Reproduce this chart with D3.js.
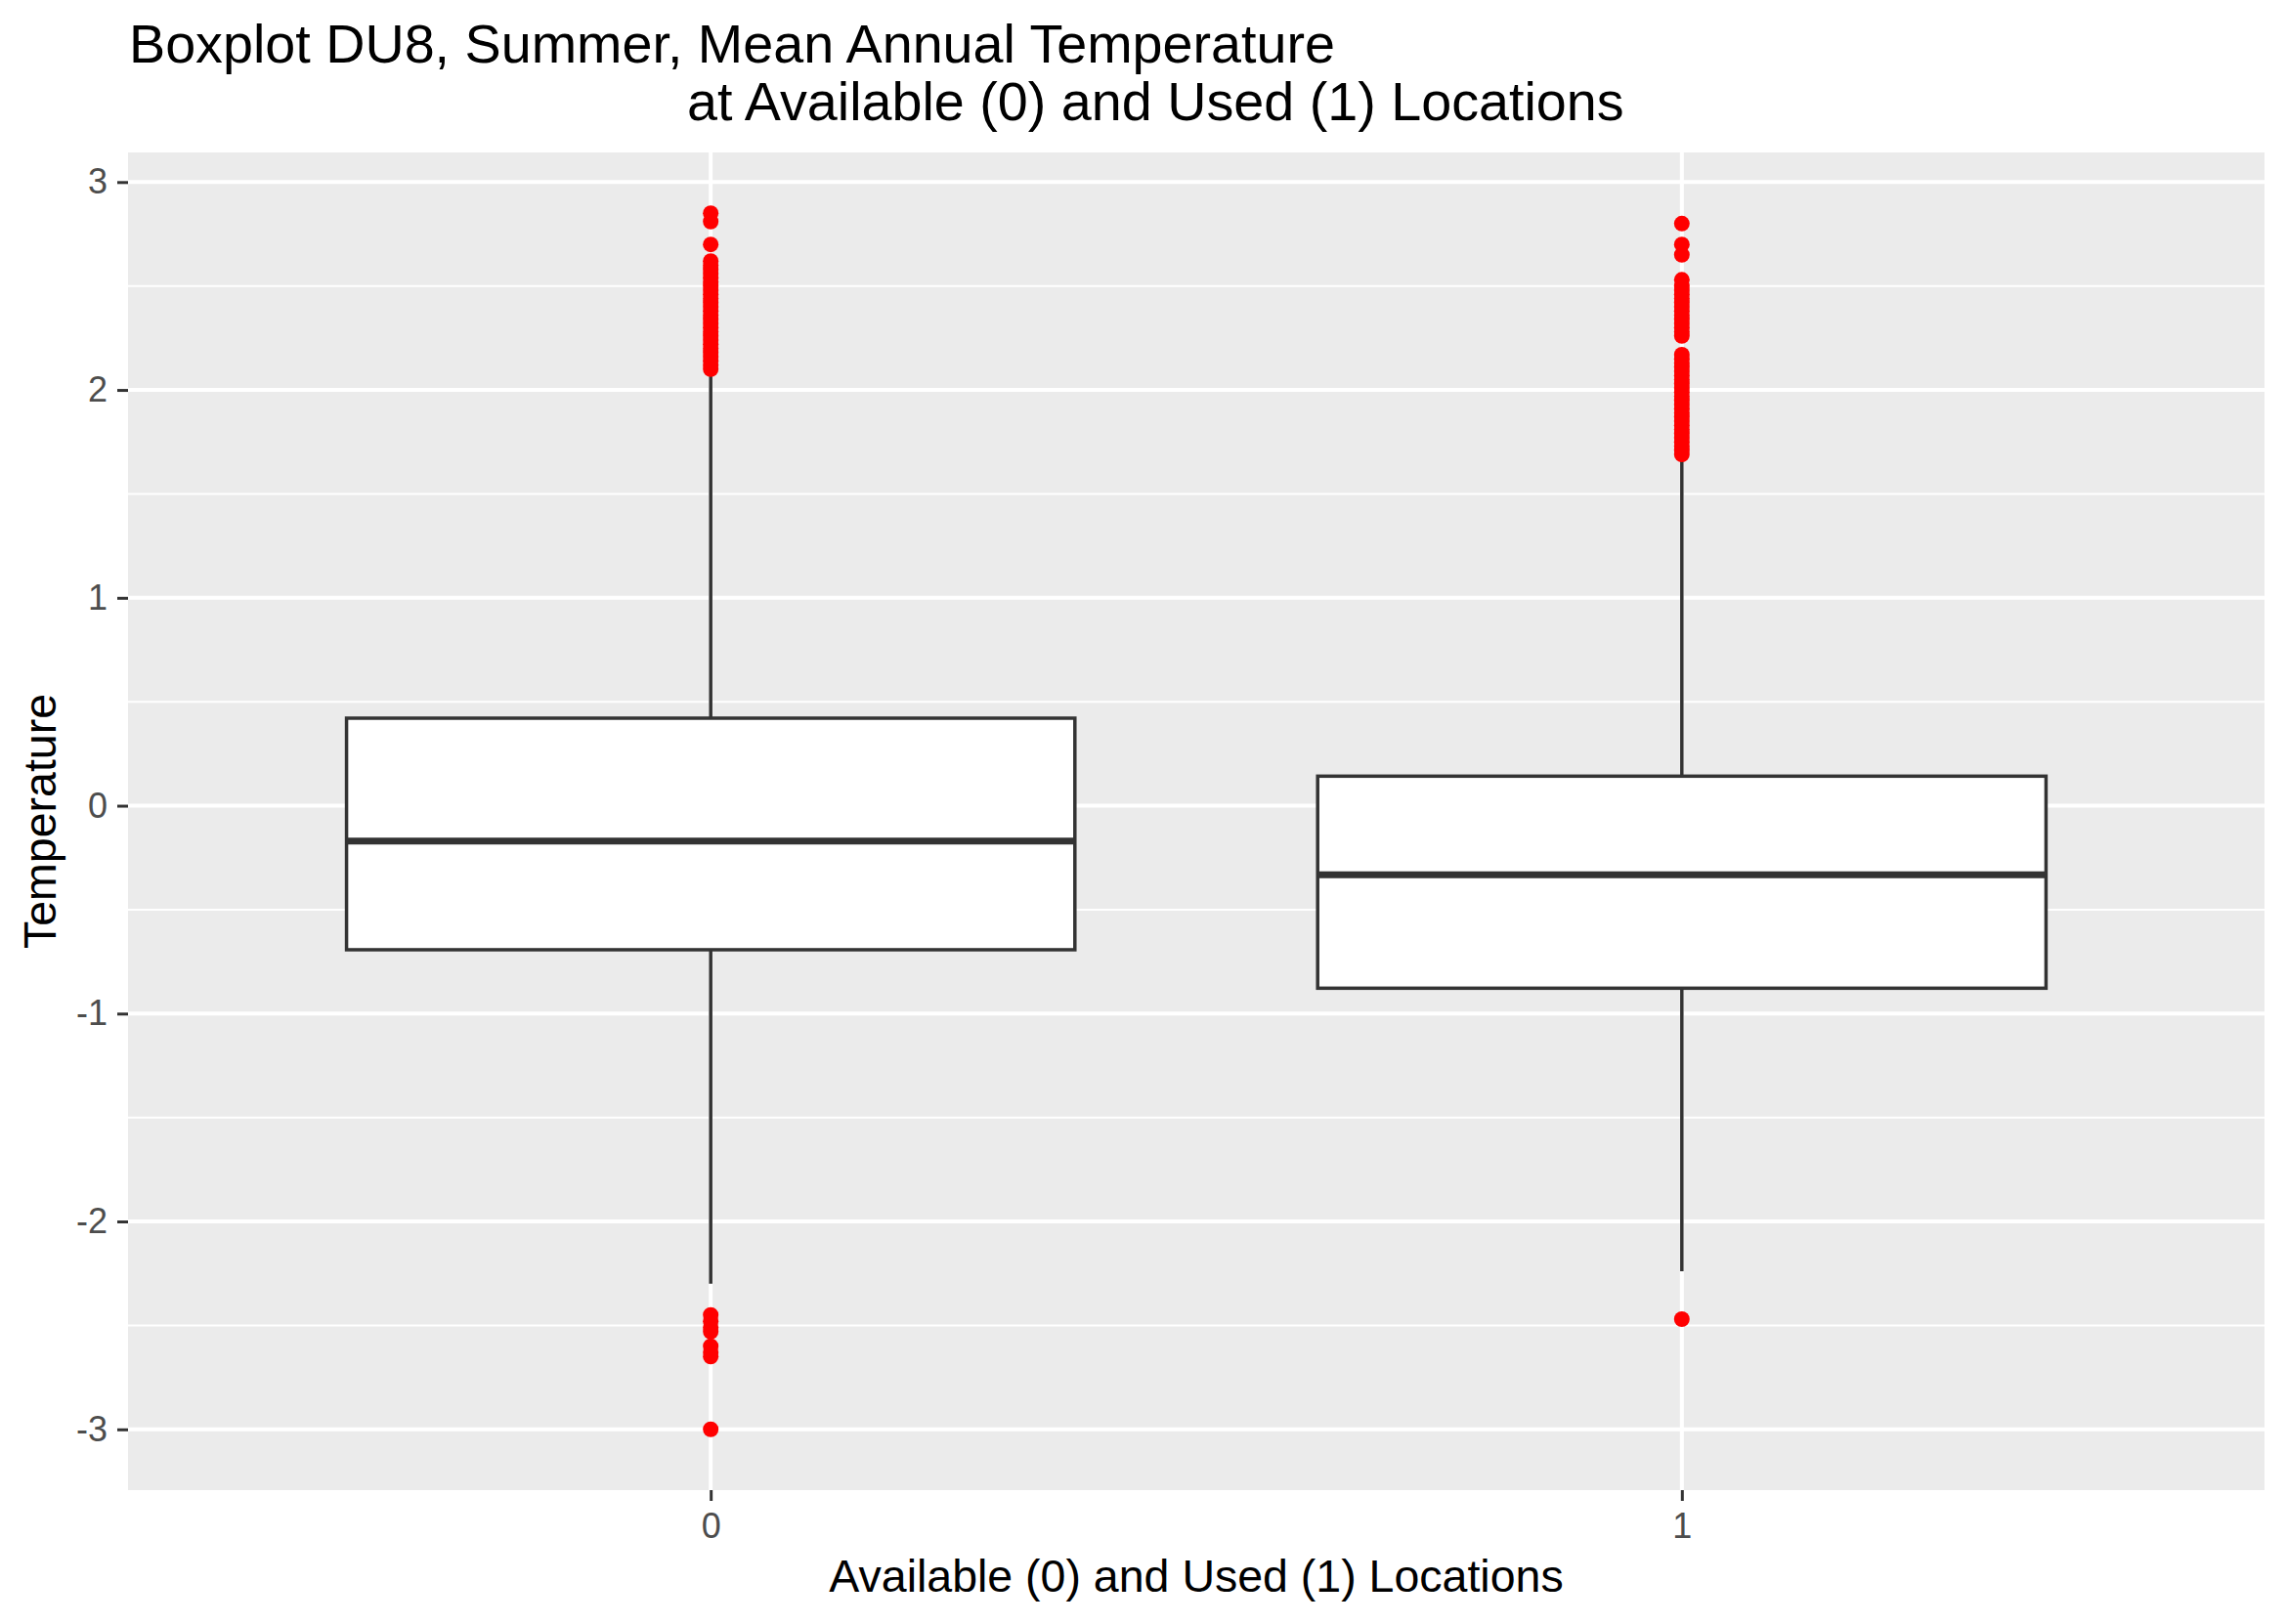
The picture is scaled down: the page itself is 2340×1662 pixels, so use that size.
<!DOCTYPE html>
<html lang="en">

<head>
    <meta charset="utf-8">
    <script src="https://unpkg.com/d3@7/dist/d3.min.js"></script>
    <style>
        body {
            margin: 0;
            background: #ffffff;
        }

        svg text {
            font-family: "Liberation Sans", Arial, sans-serif;
        }
    </style>
</head>

<body>
    <div id="chart"></div>

    <script>
        // values
        const categories = ["0", "1"];
        const lowerWhisker = [-2.30, -2.24];
        const q1 = [-0.693, -0.878];
        const median = [-0.170, -0.332];
        const q3 = [0.421, 0.142];
        const upperWhisker = [2.09, 1.68];

        const outliers0 = [
            -3.00, -2.65, -2.63, -2.60, -2.53, -2.51, -2.48, -2.45,
            2.10, 2.12, 2.14, 2.16, 2.18, 2.20, 2.22, 2.24, 2.26, 2.28,
            2.30, 2.32, 2.34, 2.36, 2.38, 2.40, 2.42, 2.44, 2.46, 2.48,
            2.50, 2.52, 2.54, 2.56, 2.58, 2.60, 2.62, 2.70, 2.81, 2.85
        ];
        const outliers1 = [
            -2.47,
            1.69, 1.71, 1.73, 1.75, 1.77, 1.79, 1.81, 1.83, 1.85, 1.87,
            1.89, 1.91, 1.93, 1.95, 1.97, 1.99, 2.01, 2.03, 2.05, 2.07,
            2.09, 2.11, 2.13, 2.15, 2.17, 2.26, 2.28, 2.30, 2.32, 2.34,
            2.36, 2.38, 2.40, 2.42, 2.44, 2.46, 2.48, 2.50, 2.53, 2.65,
            2.70, 2.80
        ];
        const outliers = [outliers0, outliers1];

        const yTicks = [-3, -2, -1, 0, 1, 2, 3];
        const yMinorTicks = [-2.5, -1.5, -0.5, 0.5, 1.5, 2.5];

        const width = 2340, height = 1662;
        const panel = { left: 131, right: 2317, top: 156, bottom: 1525 };

        const boxes = categories.map((c, i) => ({
            cat: c,
            lo: lowerWhisker[i],
            q1: q1[i],
            med: median[i],
            q3: q3[i],
            hi: upperWhisker[i],
            out: outliers[i]
        }));

        // ggplot style 5% expansion around the data
        const allVals = boxes.flatMap(b => b.out.concat([b.lo, b.hi]));
        const ext = d3.extent(allVals);
        const pad = (ext[1] - ext[0]) * 0.05;

        const y = d3.scaleLinear()
            .domain([ext[0] - pad, ext[1] + pad])
            .range([panel.bottom, panel.top]);

        const x = d3.scalePoint()
            .domain(categories)
            .range([panel.left, panel.right])
            .padding(0.6);

        const boxW = x.step() * 0.75;

        const svg = d3.select("#chart")
            .append("svg")
            .attr("width", width)
            .attr("height", height);

        svg.append("rect")
            .attr("x", panel.left)
            .attr("y", panel.top)
            .attr("width", panel.right - panel.left)
            .attr("height", panel.bottom - panel.top)
            .attr("fill", "#EBEBEB");

        // grid
        svg.append("g")
            .selectAll("line")
            .data(yMinorTicks)
            .join("line")
            .attr("x1", panel.left)
            .attr("x2", panel.right)
            .attr("y1", d => y(d))
            .attr("y2", d => y(d))
            .attr("stroke", "#ffffff")
            .attr("stroke-width", 2);

        svg.append("g")
            .selectAll("line")
            .data(yTicks)
            .join("line")
            .attr("x1", panel.left)
            .attr("x2", panel.right)
            .attr("y1", d => y(d))
            .attr("y2", d => y(d))
            .attr("stroke", "#ffffff")
            .attr("stroke-width", 4);

        svg.append("g")
            .selectAll("line")
            .data(categories)
            .join("line")
            .attr("x1", d => x(d))
            .attr("x2", d => x(d))
            .attr("y1", panel.top)
            .attr("y2", panel.bottom)
            .attr("stroke", "#ffffff")
            .attr("stroke-width", 4);

        // axes
        const yAxis = svg.append("g")
            .attr("transform", `translate(${panel.left},0)`)
            .call(d3.axisLeft(y).tickValues(yTicks).tickSize(11).tickPadding(10).tickFormat(d3.format("d")));
        const xAxis = svg.append("g")
            .attr("transform", `translate(0,${panel.bottom})`)
            .call(d3.axisBottom(x).tickSize(11).tickPadding(12));

        [yAxis, xAxis].forEach(a => {
            a.select(".domain").remove();
            a.selectAll(".tick line").attr("stroke", "#333333").attr("stroke-width", 3);
            a.selectAll(".tick text")
                .attr("fill", "#4D4D4D")
                .style("font-size", "36px")
                .style("font-family", "'Liberation Sans', Arial, sans-serif");
        });
        yAxis.selectAll(".tick text").text(d => d < 0 ? "-" + Math.abs(d) : d);

        // boxes
        const g = svg.append("g");

        g.selectAll(".whisker")
            .data(boxes)
            .join("line")
            .attr("class", "whisker")
            .attr("x1", d => x(d.cat))
            .attr("x2", d => x(d.cat))
            .attr("y1", d => y(d.lo))
            .attr("y2", d => y(d.hi))
            .attr("stroke", "#333333")
            .attr("stroke-width", 3.5);

        g.selectAll(".box")
            .data(boxes)
            .join("rect")
            .attr("class", "box")
            .attr("x", d => x(d.cat) - boxW / 2)
            .attr("width", boxW)
            .attr("y", d => y(d.q3))
            .attr("height", d => y(d.q1) - y(d.q3))
            .attr("fill", "#ffffff")
            .attr("stroke", "#333333")
            .attr("stroke-width", 3.5);

        g.selectAll(".median")
            .data(boxes)
            .join("line")
            .attr("class", "median")
            .attr("x1", d => x(d.cat) - boxW / 2)
            .attr("x2", d => x(d.cat) + boxW / 2)
            .attr("y1", d => y(d.med))
            .attr("y2", d => y(d.med))
            .attr("stroke", "#333333")
            .attr("stroke-width", 7);

        g.selectAll(".outliers")
            .data(boxes)
            .join("g")
            .attr("class", "outliers")
            .selectAll("circle")
            .data(d => d.out.map(v => ({ cat: d.cat, v: v })))
            .join("circle")
            .attr("cx", d => x(d.cat))
            .attr("cy", d => y(d.v))
            .attr("r", 8)
            .attr("fill", "#FF0000");

        // titles
        svg.append("text")
            .attr("x", 132)
            .attr("y", 64)
            .style("font-size", "55.7px")
            .attr("fill", "#000000")
            .text("Boxplot DU8, Summer, Mean Annual Temperature");
        svg.append("text")
            .attr("x", 703)
            .attr("y", 123)
            .style("font-size", "55.7px")
            .attr("fill", "#000000")
            .text("at Available (0) and Used (1) Locations");

        svg.append("text")
            .attr("x", (panel.left + panel.right) / 2)
            .attr("y", 1629)
            .attr("text-anchor", "middle")
            .style("font-size", "46.5px")
            .attr("fill", "#000000")
            .text("Available (0) and Used (1) Locations");

        svg.append("text")
            .attr("transform", `translate(57,${(panel.top + panel.bottom) / 2}) rotate(-90)`)
            .attr("text-anchor", "middle")
            .style("font-size", "46.5px")
            .attr("fill", "#000000")
            .text("Temperature");
    </script>
</body>

</html>
